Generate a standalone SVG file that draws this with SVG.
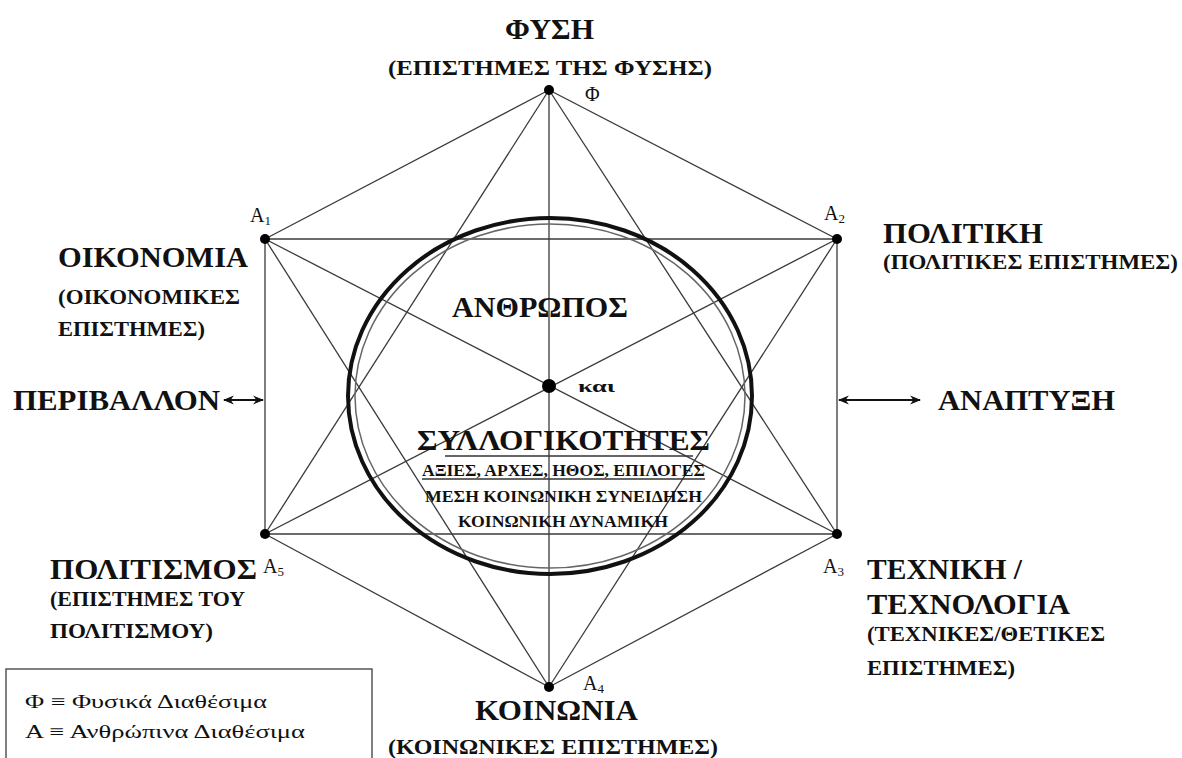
<svg xmlns="http://www.w3.org/2000/svg" width="1182" height="758" viewBox="0 0 1182 758">
<style>
  text { font-family: "Liberation Serif", "DejaVu Serif", "Times New Roman", serif; fill: #111; }
  .t { font-weight: bold; font-size: 29px; }
  .s { font-weight: bold; font-size: 22px; }
  .c { font-weight: bold; font-size: 17px; }
  .lbl { font-size: 20px; }
  .sub { font-size: 13px; }
  .leg { font-size: 19px; }
  .edge { stroke: #3a3a3a; stroke-width: 1.3; fill: none; }
  .dot { fill: #000; }
</style>
<defs>
  <marker id="ah" viewBox="0 0 10 10" refX="9" refY="5" markerWidth="11" markerHeight="11" markerUnits="userSpaceOnUse" orient="auto-start-reverse">
    <path d="M0,1 L10,5 L0,9 L3,5 Z" fill="#111"/>
  </marker>
</defs>
<rect width="1182" height="758" fill="#fff"/>

<g id="connectors">
  <line class="edge" x1="549" y1="90" x2="265" y2="239"/>
  <line class="edge" x1="549" y1="90" x2="837" y2="239"/>
  <line class="edge" x1="265" y1="239" x2="265" y2="534"/>
  <line class="edge" x1="837" y1="239" x2="837" y2="534"/>
  <line class="edge" x1="265" y1="534" x2="549" y2="687"/>
  <line class="edge" x1="837" y1="534" x2="549" y2="687"/>
  <line class="edge" x1="265" y1="239" x2="837" y2="239"/>
  <line class="edge" x1="265" y1="534" x2="837" y2="534"/>
  <line class="edge" x1="549" y1="90" x2="265" y2="534"/>
  <line class="edge" x1="549" y1="90" x2="837" y2="534"/>
  <line class="edge" x1="549" y1="687" x2="265" y2="239"/>
  <line class="edge" x1="549" y1="687" x2="837" y2="239"/>
  <line class="edge" x1="549" y1="90" x2="549" y2="687"/>
  <line class="edge" x1="265" y1="239" x2="837" y2="534"/>
  <line class="edge" x1="837" y1="239" x2="265" y2="534"/>
  <line x1="224" y1="400" x2="263" y2="400" stroke="#111" stroke-width="1.8" marker-start="url(#ah)" marker-end="url(#ah)"/>
  <line x1="839" y1="400" x2="920" y2="400" stroke="#111" stroke-width="1.8" marker-start="url(#ah)" marker-end="url(#ah)"/>
</g>

<g id="circle">
  <ellipse cx="550" cy="396" rx="195" ry="172" fill="none" stroke="#666" stroke-width="1.5"/>
  <ellipse cx="550" cy="396" rx="202" ry="178" fill="none" stroke="#111" stroke-width="4"/>
</g>

<g id="node-phi">
  <circle class="dot" cx="549" cy="90" r="5"/>
  <text class="lbl" x="585" y="101">Φ</text>
  <text class="t" x="505" y="39" textLength="89" lengthAdjust="spacingAndGlyphs">ΦΥΣΗ</text>
  <text class="s" x="388" y="75" textLength="324" lengthAdjust="spacingAndGlyphs">(ΕΠΙΣΤΗΜΕΣ ΤΗΣ ΦΥΣΗΣ)</text>
</g>

<g id="node-a1">
  <circle class="dot" cx="265" cy="239" r="5"/>
  <text class="lbl" x="250" y="222">A<tspan class="sub" dy="3">1</tspan></text>
  <text class="t" x="58" y="267" textLength="190" lengthAdjust="spacingAndGlyphs">ΟΙΚΟΝΟΜΙΑ</text>
  <text class="s" x="58" y="304" textLength="182" lengthAdjust="spacingAndGlyphs">(ΟΙΚΟΝΟΜΙΚΕΣ</text>
  <text class="s" x="58" y="336" textLength="147" lengthAdjust="spacingAndGlyphs">ΕΠΙΣΤΗΜΕΣ)</text>
</g>

<g id="node-a2">
  <circle class="dot" cx="837" cy="239" r="5"/>
  <text class="lbl" x="824" y="220">A<tspan class="sub" dy="3">2</tspan></text>
  <text class="t" x="883" y="243" textLength="160" lengthAdjust="spacingAndGlyphs">ΠΟΛΙΤΙΚΗ</text>
  <text class="s" x="883" y="269" textLength="295" lengthAdjust="spacingAndGlyphs">(ΠΟΛΙΤΙΚΕΣ ΕΠΙΣΤΗΜΕΣ)</text>
</g>

<g id="node-a3">
  <circle class="dot" cx="837" cy="534" r="5"/>
  <text class="lbl" x="823" y="573">A<tspan class="sub" dy="3">3</tspan></text>
  <text class="t" x="867" y="579" textLength="155" lengthAdjust="spacingAndGlyphs">ΤΕΧΝΙΚΗ /</text>
  <text class="t" x="867" y="614" textLength="203" lengthAdjust="spacingAndGlyphs">ΤΕΧΝΟΛΟΓΙΑ</text>
  <text class="s" x="867" y="641" textLength="238" lengthAdjust="spacingAndGlyphs">(ΤΕΧΝΙΚΕΣ/ΘΕΤΙΚΕΣ</text>
  <text class="s" x="867" y="675" textLength="148" lengthAdjust="spacingAndGlyphs">ΕΠΙΣΤΗΜΕΣ)</text>
</g>

<g id="node-a4">
  <circle class="dot" cx="549" cy="687" r="5"/>
  <text class="lbl" x="583" y="690">A<tspan class="sub" dy="3">4</tspan></text>
  <text class="t" x="475" y="720" textLength="163" lengthAdjust="spacingAndGlyphs">ΚΟΙΝΩΝΙΑ</text>
  <text class="s" x="388" y="754" textLength="330" lengthAdjust="spacingAndGlyphs">(ΚΟΙΝΩΝΙΚΕΣ ΕΠΙΣΤΗΜΕΣ)</text>
</g>

<g id="node-a5">
  <circle class="dot" cx="265" cy="534" r="5"/>
  <text class="lbl" x="263" y="573">A<tspan class="sub" dy="3">5</tspan></text>
  <text class="t" x="50" y="579" textLength="207" lengthAdjust="spacingAndGlyphs">ΠΟΛΙΤΙΣΜΟΣ</text>
  <text class="s" x="50" y="606" textLength="195" lengthAdjust="spacingAndGlyphs">(ΕΠΙΣΤΗΜΕΣ ΤΟΥ</text>
  <text class="s" x="50" y="638" textLength="163" lengthAdjust="spacingAndGlyphs">ΠΟΛΙΤΙΣΜΟΥ)</text>
</g>

<g id="node-environment">
  <text class="t" x="13" y="410" textLength="207" lengthAdjust="spacingAndGlyphs">ΠΕΡΙΒΑΛΛΟΝ</text>
</g>

<g id="node-development">
  <text class="t" x="938" y="410" textLength="177" lengthAdjust="spacingAndGlyphs">ΑΝΑΠΤΥΞΗ</text>
</g>

<g id="node-center">
  <circle class="dot" cx="549" cy="386" r="7"/>
  <text class="t" x="452" y="317" textLength="176" lengthAdjust="spacingAndGlyphs">ΑΝΘΡΩΠΟΣ</text>
  <text class="c" x="578" y="392" textLength="37" lengthAdjust="spacingAndGlyphs">και</text>
  <text class="t" x="417" y="450" textLength="293" lengthAdjust="spacingAndGlyphs">ΣΥΛΛΟΓΙΚΟΤΗΤΕΣ</text>
  <line x1="445" y1="456" x2="693" y2="456" stroke="#333" stroke-width="1.3"/>
  <text class="c" x="422" y="476" textLength="283" lengthAdjust="spacingAndGlyphs">ΑΞΙΕΣ, ΑΡΧΕΣ, ΗΘΟΣ, ΕΠΙΛΟΓΕΣ</text>
  <line x1="422" y1="479" x2="705" y2="479" stroke="#333" stroke-width="1.3"/>
  <text class="c" x="425" y="502" textLength="277" lengthAdjust="spacingAndGlyphs">ΜΕΣΗ ΚΟΙΝΩΝΙΚΗ ΣΥΝΕΙΔΗΣΗ</text>
  <text class="c" x="458" y="527" textLength="210" lengthAdjust="spacingAndGlyphs">ΚΟΙΝΩΝΙΚΗ ΔΥΝΑΜΙΚΗ</text>
</g>

<g id="legend">
  <rect x="6" y="669" width="366" height="100" fill="#fff" stroke="#555" stroke-width="1.5"/>
  <text class="leg" x="25" y="708" textLength="242" lengthAdjust="spacingAndGlyphs">Φ ≡ Φυσικά Διαθέσιμα</text>
  <text class="leg" x="25" y="738" textLength="280" lengthAdjust="spacingAndGlyphs">Α ≡ Ανθρώπινα Διαθέσιμα</text>
</g>
</svg>
